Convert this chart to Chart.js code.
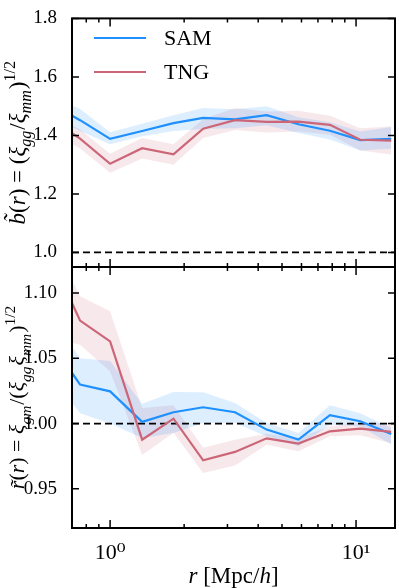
<!DOCTYPE html>
<html>
<head>
<meta charset="utf-8">
<script src="https://cdn.jsdelivr.net/npm/chart.js@4.4.1/dist/chart.umd.min.js"></script>
<style>
  body { margin: 0; background: #fff; }
  #wrap { position: relative; width: 399px; height: 588px; }
  canvas { position: absolute; left: 0; top: 0; }
</style>
</head>
<body>
<div id="wrap">
  <canvas id="biasChart" width="399" height="588"></canvas>
  <canvas id="corrChart" width="399" height="588"></canvas>
</div>
<script>
// separation bins r [Mpc/h]
var rBins = [0.70, 0.755, 1.0, 1.35, 1.81, 2.39, 3.22, 4.33, 5.83, 7.83, 10.4, 13.9];

// top panel: b(r)
var biasSam     = [1.467, 1.452, 1.388, 1.415, 1.442, 1.460, 1.455, 1.469, 1.438, 1.416, 1.384, 1.388];
var biasSamHigh = [1.502, 1.490, 1.411, 1.440, 1.469, 1.494, 1.489, 1.500, 1.462, 1.445, 1.413, 1.429];
var biasSamLow  = [1.429, 1.415, 1.370, 1.397, 1.415, 1.422, 1.424, 1.435, 1.408, 1.386, 1.348, 1.354];
var biasTng     = [1.408, 1.389, 1.303, 1.356, 1.335, 1.423, 1.452, 1.446, 1.447, 1.436, 1.385, 1.382];
var biasTngHigh = [1.435, 1.420, 1.337, 1.391, 1.370, 1.456, 1.494, 1.482, 1.484, 1.467, 1.424, 1.430];
var biasTngLow  = [1.370, 1.355, 1.272, 1.321, 1.300, 1.391, 1.418, 1.410, 1.413, 1.402, 1.348, 1.335];

// bottom panel: r(r)
var corrSam     = [1.0388, 1.0299, 1.0247, 1.0013, 1.0087, 1.0125, 1.0087, 0.9954, 0.9877, 1.0064, 1.0018, 0.9921];
var corrSamHigh = [1.0590, 1.0500, 1.0480, 1.0153, 1.0243, 1.0240, 1.0158, 1.0005, 0.9928, 1.0140, 1.0080, 0.9967];
var corrSamLow  = [1.0160, 1.0080, 1.0000, 0.9890, 0.9928, 1.0005, 1.0005, 0.9903, 0.9826, 0.9992, 0.9980, 0.9840];
var corrTng     = [1.0924, 1.0789, 1.0630, 0.9877, 1.0038, 0.9719, 0.9783, 0.9887, 0.9847, 0.9941, 0.9962, 0.9936];
var corrTngHigh = [1.1100, 1.0975, 1.0860, 1.0120, 1.0140, 0.9814, 0.9877, 0.9923, 0.9890, 0.9980, 1.0005, 1.0005];
var corrTngLow  = [1.0620, 1.0605, 1.0400, 0.9760, 0.9930, 0.9622, 0.9678, 0.9837, 0.9788, 0.9903, 0.9910, 0.9850];

var xLimits = [0.7, 14.4];
var unityLine = [1, 1];
var biasTicks = [1.0, 1.2, 1.4, 1.6, 1.8];
var corrTicks = [0.95, 1.00, 1.05, 1.10];
var xMajorTicks = [1, 10];
var xMinorTicks = [0.8, 0.9, 2, 3, 4, 5, 6, 7, 8, 9];
var xTickLabels = ["10\u2070", "10\u00b9"];
var seriesNames = ["SAM", "TNG"];

var samColor = "#1e90ff";
var tngColor = "#cc6677";
var serif = "'Liberation Serif', 'DejaVu Serif', serif";

Chart.defaults.font.family = serif;
Chart.defaults.color = "#000";
Chart.defaults.animation = false;

function pts(ys) {
    return rBins.map(function (r, i) { return { x: r, y: ys[i] }; });
}

function lineSet(ys, color, label) {
    return { label: label, data: pts(ys), borderColor: color, borderWidth: 2.2, pointRadius: 0, fill: false, tension: 0 };
}

function bandSet(ys, color, fill) {
    return { data: pts(ys), borderWidth: 0, borderColor: "rgba(0,0,0,0)", backgroundColor: color, pointRadius: 0, fill: fill, tension: 0 };
}

function unitySet() {
    return {
        data: [{ x: xLimits[0], y: unityLine[0] }, { x: xLimits[1], y: unityLine[1] }],
        borderColor: "#000", borderWidth: 1.8, borderDash: [7, 4], pointRadius: 0, fill: false
    };
}

// mixed italic / sub / superscript text for axis titles
function fontFor(style, size) {
    var s = (style.indexOf("b") >= 0 || style.indexOf("p") >= 0) ? size * 0.7 : size;
    return (style.indexOf("i") >= 0 ? "italic " : "") + s.toFixed(1) + "px " + serif;
}

function drawRich(ctx, parts, cx, cy, size, rotate) {
    ctx.save();
    ctx.translate(cx, cy);
    if (rotate) ctx.rotate(-Math.PI / 2);
    ctx.fillStyle = "#000";
    ctx.textBaseline = "alphabetic";
    var total = 0;
    parts.forEach(function (p) { ctx.font = fontFor(p[1], size); total += ctx.measureText(p[0]).width + (p[1].indexOf("b") >= 0 ? 1 : 0); });
    var x = -total / 2;
    parts.forEach(function (p) {
        ctx.font = fontFor(p[1], size);
        var dy = p[1].indexOf("b") >= 0 ? size * 0.3 : (p[1].indexOf("p") >= 0 ? -size * 0.42 : 0);
        ctx.fillText(p[0], x, size * 0.33 + dy);
        x += ctx.measureText(p[0]).width + (p[1].indexOf("b") >= 0 ? 1 : 0);
    });
    ctx.restore();
}

var biasTitle = [["b\u0303", "i"], ["(", ""], ["r", "i"], [")", ""], [" = (", ""], ["\u03be", "i"], ["gg", "ib"],
    ["/", ""], ["\u03be", "i"], ["mm", "ib"], [")", ""], ["1/2", "p"]];
var corrTitle = [["r\u0303", "i"], ["(", ""], ["r", "i"], [")", ""], [" = ", ""], ["\u03be", "i"], ["gm", "ib"],
    ["/(", ""], ["\u03be", "i"], ["gg", "ib"], ["\u03be", "i"], ["mm", "ib"], [")", ""], ["1/2", "p"]];
var xTitle = [["r", "i"], [" [Mpc/", ""], ["h", "i"], ["]", ""]];

var frameTicks = {
    id: "frameTicks",
    afterDraw: function (chart) {
        var ctx = chart.ctx, a = chart.chartArea, xs = chart.scales.x, ys = chart.scales.y;
        ctx.save();
        ctx.strokeStyle = "#000";
        ctx.lineWidth = 1.5;
        ctx.beginPath();
        xMajorTicks.concat(xMinorTicks).forEach(function (v) {
            var len = xMajorTicks.indexOf(v) >= 0 ? 8 : 4;
            var px = xs.getPixelForValue(v);
            ctx.moveTo(px, a.bottom); ctx.lineTo(px, a.bottom - len);
            ctx.moveTo(px, a.top); ctx.lineTo(px, a.top + len);
        });
        ys.ticks.forEach(function (t) {
            var py = ys.getPixelForValue(t.value);
            ctx.moveTo(a.left, py); ctx.lineTo(a.left + 7, py);
            ctx.moveTo(a.right, py); ctx.lineTo(a.right - 7, py);
        });
        ctx.stroke();
        ctx.lineWidth = 2;
        ctx.strokeRect(a.left, a.top, a.right - a.left, a.bottom - a.top);
        ctx.restore();

        var o = chart.options.plugins.frameTicks;
        drawRich(ctx, o.yTitle, 17, (a.top + a.bottom) / 2, o.titleSize, true);
        if (o.xTitle) drawRich(ctx, o.xTitle, (a.left + a.right) / 2, 575, 23, false);
        if (o.legend) {
            ctx.save();
            [samColor, tngColor].forEach(function (c, i) {
                var y = 38 + i * 34;
                ctx.strokeStyle = c;
                ctx.lineWidth = 2.2;
                ctx.beginPath(); ctx.moveTo(94, y); ctx.lineTo(146, y); ctx.stroke();
                ctx.fillStyle = "#000";
                ctx.font = "22px " + serif;
                ctx.textBaseline = "middle";
                ctx.fillText(seriesNames[i], 164, y + 1);
            });
            ctx.restore();
        }
    }
};

function makePanel(id, d, yRange, yTicks, digits, pad, showX, extra) {
    new Chart(id, {
        type: "line",
        data: {
            datasets: [
                lineSet(d.tng, tngColor, seriesNames[1]),
                lineSet(d.sam, samColor, seriesNames[0]),
                unitySet(),
                bandSet(d.samHigh, "rgba(30,144,255,0.15)", "+1"),
                bandSet(d.samLow, "rgba(30,144,255,0.15)", false),
                bandSet(d.tngHigh, "rgba(204,102,119,0.15)", "+1"),
                bandSet(d.tngLow, "rgba(204,102,119,0.15)", false)
            ]
        },
        options: {
            responsive: false,
            layout: { padding: pad },
            plugins: {
                legend: { display: false },
                tooltip: { enabled: false },
                frameTicks: extra
            },
            scales: {
                x: {
                    type: "logarithmic",
                    min: xLimits[0],
                    max: xLimits[1],
                    display: showX,
                    grid: { display: false },
                    border: { display: false },
                    afterBuildTicks: function (s) { s.ticks = xMajorTicks.map(function (v) { return { value: v }; }); },
                    afterFit: function (s) { s.height = showX ? 60 : 0; },
                    ticks: {
                        autoSkip: false,
                        maxRotation: 0,
                        padding: 4,
                        font: { size: 22 },
                        callback: function (v) { return xTickLabels[xMajorTicks.indexOf(v)]; }
                    }
                },
                y: {
                    min: yRange[0],
                    max: yRange[1],
                    grid: { display: false },
                    border: { display: false },
                    afterBuildTicks: function (s) { s.ticks = yTicks.map(function (v) { return { value: v }; }); },
                    afterFit: function (s) { s.width = 72; },
                    ticks: {
                        padding: 7,
                        font: { size: 19 },
                        callback: function (v) { return v.toFixed(digits); }
                    }
                }
            }
        },
        plugins: [frameTicks]
    });
}

makePanel("biasChart",
    { sam: biasSam, samHigh: biasSamHigh, samLow: biasSamLow, tng: biasTng, tngHigh: biasTngHigh, tngLow: biasTngLow },
    [0.95, 1.8], biasTicks, 1,
    { top: 6, right: 4, bottom: 321, left: 0 }, false,
    { yTitle: biasTitle, titleSize: 23, legend: true });

makePanel("corrChart",
    { sam: corrSam, samHigh: corrSamHigh, samLow: corrSamLow, tng: corrTng, tngHigh: corrTngHigh, tngLow: corrTngLow },
    [0.92, 1.12], corrTicks, 2,
    { top: 267, right: 4, bottom: 0, left: 0 }, true,
    { yTitle: corrTitle, titleSize: 22, xTitle: xTitle });
</script>
</body>
</html>
